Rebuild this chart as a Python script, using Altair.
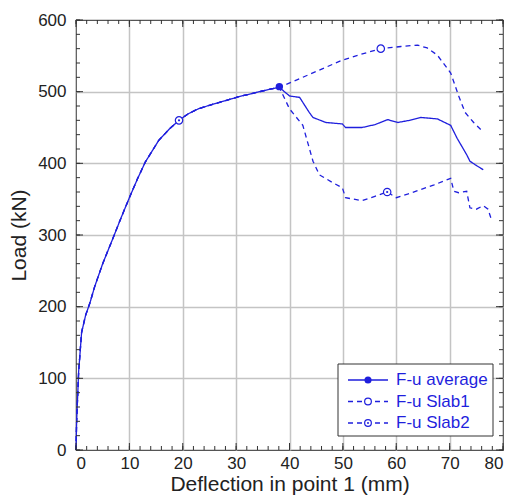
import altair as alt
import pandas as pd

# Shared loading branch (all three curves coincide up to the peak)
common_x = [0, 0.12, 0.5, 1.05, 1.8, 2.6, 3.5, 5.0, 6.9, 8.5, 10.0, 11.5, 13.0, 15.5, 17.5, 19.3, 21.0, 22.9, 25.0, 27.8, 30.5, 33.9, 36.0, 38.1]
common_y = [0, 40, 110, 164, 188, 205, 228, 260, 295, 325, 352, 378, 402, 432, 448, 460, 469, 476, 481, 487, 493, 499, 503, 506]

avg_x = [38.1, 40.0, 41.9, 43.7, 44.4, 46.8, 49.9, 50.5, 53.6, 56.0, 58.4, 60.3, 62.5, 64.6, 67.7, 70.2, 71.4, 73.2, 73.8, 74.8, 76.3]
avg_y = [506, 494, 492, 471, 464, 457, 455, 450, 450, 454, 461, 457, 460, 464, 462, 453, 435, 412, 403, 398, 391]

s1_x = [38.1, 43.7, 49.9, 52.9, 57.1, 60.9, 64.0, 65.8, 67.7, 70.2, 71.7, 72.9, 74.5, 76.0]
s1_y = [506, 524, 544, 551, 560, 563, 565, 561, 551, 526, 494, 471, 457, 446]

s2_x = [38.1, 40.0, 42.5, 44.4, 45.6, 48.1, 49.9, 50.5, 53.6, 56.0, 58.3, 60.0, 62.1, 67.1, 70.2, 70.8, 71.7, 73.2, 73.8, 75.0, 76.3, 77.2, 77.8]
s2_y = [506, 476, 453, 403, 384, 373, 366, 352, 348, 354, 360, 352, 357, 370, 379, 361, 359, 361, 338, 336, 341, 336, 322]

series_names = ["F-u average", "F-u Slab1", "F-u Slab2"]
marker_series = ["F-u average", "F-u Slab1", "F-u Slab2", "F-u Slab2"]
marker_x = [38.1, 57.1, 19.3, 58.3]
marker_y = [507, 560, 460, 360]

x_major = list(range(0, 81, 10))
x_minor = list(range(0, 81, 2))
y_major = list(range(0, 601, 100))
y_minor = list(range(0, 601, 20))

BLUE = "#1f1fdd"
TICK = "#333333"
W, H = 427, 430

rows = []
for name, xs, ys in [("F-u average", avg_x, avg_y), ("F-u Slab1", s1_x, s1_y), ("F-u Slab2", s2_x, s2_y)]:
    allx = common_x[:-1] + xs
    ally = common_y[:-1] + ys
    for i, (a, b) in enumerate(zip(allx, ally)):
        rows.append({"series": name, "x": a, "y": b, "order": i})
lines = pd.DataFrame(rows)
markers = pd.DataFrame({"series": marker_series, "x": marker_x, "y": marker_y})

XMIN, XMAX, YMIN, YMAX = 0, 80, 0, 600
xscale = alt.Scale(domain=[XMIN, XMAX], nice=False)
yscale = alt.Scale(domain=[YMIN, YMAX], nice=False)

FONT = "Liberation Sans"
grid_x = {"condition": {"test": "datum.value == 0 || datum.value == 80", "value": "transparent"}, "value": "#c4c4c4"}
grid_y = {"condition": {"test": "datum.value == 0 || datum.value == 600", "value": "transparent"}, "value": "#c4c4c4"}
main_x_axis = alt.Axis(values=x_major, grid=True, gridColor=grid_x, gridWidth=1.5,
                       ticks=False, domain=False, title="Deflection in point 1 (mm)",
                       labelFontSize=17, titleFontSize=21, labelColor="#222222",
                       titleColor="#222222", labelFont=FONT, titleFont=FONT,
                       titleFontWeight="normal", labelPadding=5, titlePadding=2)
main_y_axis = alt.Axis(values=y_major, grid=True, gridColor=grid_y, gridWidth=1.5,
                       ticks=False, domain=False, title="Load (kN)",
                       labelFontSize=17, titleFontSize=21, labelColor="#222222",
                       titleColor="#222222", labelFont=FONT, titleFont=FONT,
                       titleFontWeight="normal", labelPadding=10, titlePadding=8)

line_layer = alt.Chart(lines).mark_line(color=BLUE, strokeWidth=1.3).encode(
    x=alt.X("x:Q", scale=xscale, axis=main_x_axis),
    y=alt.Y("y:Q", scale=yscale, axis=main_y_axis),
    detail="series:N",
    order="order:Q",
    strokeDash=alt.StrokeDash("series:N", scale=alt.Scale(domain=series_names, range=[[1, 0], [5, 4], [5, 4]]), legend=None),
)

# inward ticks on all four sides, lengths converted to data units
px_x = (XMAX - XMIN) / W
px_y = (YMAX - YMIN) / H

def xticks(values, y0, y1):
    return alt.Chart(pd.DataFrame({"v": values})).mark_rule(color=TICK, strokeWidth=1).encode(
        x=alt.X("v:Q", scale=xscale), y=alt.datum(y0), y2=alt.datum(y1))

def yticks(values, x0, x1):
    return alt.Chart(pd.DataFrame({"v": values})).mark_rule(color=TICK, strokeWidth=1).encode(
        y=alt.Y("v:Q", scale=yscale), x=alt.datum(x0), x2=alt.datum(x1))

tick_layers = [
    xticks(x_minor, YMIN, YMIN + 4 * px_y), xticks(x_major, YMIN, YMIN + 7 * px_y),
    xticks(x_minor, YMAX, YMAX - 4 * px_y), xticks(x_major, YMAX, YMAX - 7 * px_y),
    yticks(y_minor, XMIN, XMIN + 4 * px_x), yticks(y_major, XMIN, XMIN + 7 * px_x),
    yticks(y_minor, XMAX, XMAX - 4 * px_x), yticks(y_major, XMAX, XMAX - 7 * px_x),
]

avg_pt = alt.Chart(markers).transform_filter(alt.datum.series == "F-u average").mark_point(
    shape="circle", filled=True, color=BLUE, size=55, opacity=1).encode(
    x=alt.X("x:Q", scale=xscale), y=alt.Y("y:Q", scale=yscale))

open_pt = alt.Chart(markers).transform_filter(alt.datum.series != "F-u average").mark_point(
    shape="circle", filled=False, color=BLUE, size=55, strokeWidth=1.2, fill="white", fillOpacity=1, opacity=1).encode(
    x=alt.X("x:Q", scale=xscale), y=alt.Y("y:Q", scale=yscale))

dot_pt = alt.Chart(markers).transform_filter(alt.datum.series == "F-u Slab2").mark_point(
    shape="circle", filled=True, color=BLUE, size=5, opacity=1).encode(
    x=alt.X("x:Q", scale=xscale), y=alt.Y("y:Q", scale=yscale))

# legend box (inside the plot, bottom-right)
LX0, LX1, LY0, LY1 = 262, 417, 344, 416
SX0, SX1, SXC, TX = 272, 312, 292, 320
ROWS = [360, 381.5, 403]
one = pd.DataFrame({"k": [0]})

legend_layers = [alt.Chart(one).mark_rect(fill="white", stroke="#333333", strokeWidth=1).encode(
    x=alt.value(LX0), x2=alt.value(LX1), y=alt.value(LY0), y2=alt.value(LY1))]
for i, name in enumerate(series_names):
    entry = pd.DataFrame({"series": [name]})
    dash = [1, 0] if i == 0 else [5, 4]
    legend_layers.append(alt.Chart(entry).mark_rule(color=BLUE, strokeWidth=1.3, strokeDash=dash).encode(
        x=alt.value(SX0), x2=alt.value(SX1), y=alt.value(ROWS[i])))
    if i == 0:
        legend_layers.append(alt.Chart(entry).mark_point(shape="circle", filled=True, color=BLUE, size=50, opacity=1).encode(
            x=alt.value(SXC), y=alt.value(ROWS[i])))
    else:
        legend_layers.append(alt.Chart(entry).mark_point(shape="circle", filled=False, color=BLUE, size=45, strokeWidth=1.2,
                                                         fill="white", fillOpacity=1, opacity=1).encode(
            x=alt.value(SXC), y=alt.value(ROWS[i])))
    if i == 2:
        legend_layers.append(alt.Chart(entry).mark_point(shape="circle", filled=True, color=BLUE, size=4, opacity=1).encode(
            x=alt.value(SXC), y=alt.value(ROWS[i])))
    legend_layers.append(alt.Chart(entry).mark_text(align="left", baseline="middle", color=BLUE, fontSize=17, font=FONT).encode(
        x=alt.value(TX), y=alt.value(ROWS[i]), text="series:N"))

chart = alt.layer(
    line_layer, *tick_layers, open_pt, avg_pt, dot_pt, *legend_layers
).properties(
    width=W, height=H,
    autosize=alt.AutoSizeParams(type="none"),
    padding={"left": 68, "top": 12, "right": 10, "bottom": 46},
    background="white",
).configure_view(stroke="#555555", strokeWidth=1.2)

chart.save("out.html", embed_options={"renderer": "svg", "actions": False})
